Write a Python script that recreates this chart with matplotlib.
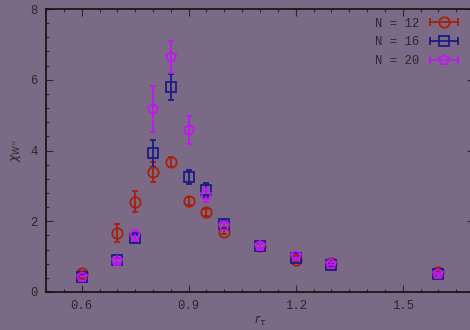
import matplotlib
matplotlib.use("Agg")
import matplotlib.pyplot as plt
from matplotlib.lines import Line2D
from matplotlib.legend_handler import HandlerLine2D, HandlerTuple
from matplotlib.ticker import MultipleLocator

r_tau = [0.6, 0.7, 0.75, 0.8, 0.85, 0.9, 0.95, 1.0, 1.1, 1.2, 1.3, 1.6]

chi_12 = [0.55, 1.66, 2.55, 3.40, 3.67, 2.57, 2.26, 1.70, 1.30, 0.90, 0.82, 0.57]
err_12 = [0.05, 0.26, 0.30, 0.28, 0.15, 0.12, 0.10, 0.06, 0.05, 0.04, 0.04, 0.03]

chi_16 = [0.42, 0.90, 1.52, 3.92, 5.79, 3.25, 2.88, 1.92, 1.30, 0.96, 0.77, 0.52]
err_16 = [0.05, 0.07, 0.10, 0.38, 0.37, 0.20, 0.20, 0.10, 0.05, 0.05, 0.04, 0.03]

chi_20 = [0.42, 0.88, 1.60, 5.17, 6.64, 4.58, 2.75, 1.86, 1.30, 1.02, 0.80, 0.52]
err_20 = [0.04, 0.06, 0.15, 0.66, 0.45, 0.40, 0.20, 0.10, 0.05, 0.06, 0.04, 0.03]

labels = ["N = 12", "N = 16", "N = 20"]
colors = ["#a8200c", "#1c1c84", "#c018f0"]
markers = ["o", "s", "p"]

bg = "#7a6a85"
txt = "#2a2a2a"
mono = "Liberation Mono"

fig = plt.figure(figsize=(4.7, 3.3), dpi=100, facecolor=bg)
ax = fig.add_axes([46 / 470, 38 / 330, 428 / 470, 283 / 330], facecolor=bg)

handles = []
hmap = {}
for y, e, c, m, lab in zip([chi_12, chi_16, chi_20], [err_12, err_16, err_20],
                           colors, markers, labels):
    ax.errorbar(r_tau, y, yerr=e, fmt=m, color=c, mfc="none", mec=c,
                ms=7.5 if m != "s" else 7, mew=1.3, elinewidth=1.3,
                capsize=2.5, capthick=1.3)
    bar = Line2D([], [], color=c, lw=1.3, marker="|", ms=6, mew=1.3)
    dot = Line2D([], [], color=c, ls="none", marker=m, mfc="none", mec=c,
                 ms=7.5, mew=1.3)
    hmap[bar] = HandlerLine2D(numpoints=2)
    hmap[dot] = HandlerLine2D(numpoints=1)
    handles.append((bar, dot))

hmap[tuple] = HandlerTuple(ndivide=1)
leg = ax.legend(handles, labels, loc="upper right", bbox_to_anchor=(0.998, 1.008),
                frameon=False, markerfirst=False, handlelength=2.9,
                handletextpad=0.6, labelspacing=0.55,
                prop={"family": mono, "size": 8.8}, handler_map=hmap)
for t in leg.get_texts():
    t.set_color(txt)

ax.set_xlim(0.5, 1.7)
ax.set_ylim(0, 8)
ax.xaxis.set_major_locator(MultipleLocator(0.3))
ax.xaxis.set_minor_locator(MultipleLocator(0.05))
ax.yaxis.set_major_locator(MultipleLocator(2))
ax.yaxis.set_minor_locator(MultipleLocator(0.4))
ax.tick_params(which="both", direction="in", top=True, right=True,
               colors=txt, labelcolor=txt, width=0.8)
ax.tick_params(which="major", length=5, labelsize=8.8, pad=6)
ax.tick_params(which="minor", length=2.5)
for lbl in ax.get_xticklabels() + ax.get_yticklabels():
    lbl.set_family(mono)
ax.xaxis.set_major_formatter(plt.FuncFormatter(lambda v, p: f"{v:.1f}"))
ax.yaxis.set_major_formatter(plt.FuncFormatter(lambda v, p: f"{v:.0f}"))

for s in ax.spines.values():
    s.set_color("#111111")
    s.set_linewidth(1.2)

ax.set_xlabel(r"$r_\tau$", color=txt, fontsize=9, labelpad=1)
ax.set_ylabel(r"$\chi_{W^u}$", color=txt, fontsize=9, labelpad=5)

fig.savefig("out.png", dpi=100, facecolor=bg)
